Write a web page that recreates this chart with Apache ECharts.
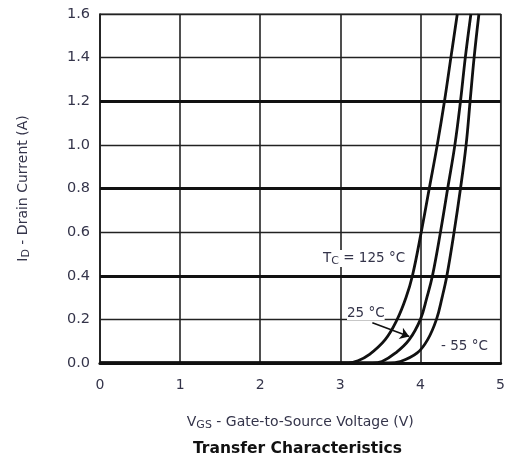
<!DOCTYPE html>
<html>
<head>
<meta charset="utf-8">
<script src="https://cdn.jsdelivr.net/npm/echarts@6/dist/echarts.min.js"></script>
<style>
  html, body { margin: 0; padding: 0; background: #fff; }
  #chart { width: 508px; height: 462px; }
</style>
</head>
<body>
<div id="chart"></div>
<script>
// Transfer characteristics: drain current vs gate-source voltage at three case temperatures
const vgs125 = [0, 3.10, 3.22, 3.36, 3.56, 3.71, 3.82, 3.90, 4.01, 4.11, 4.21, 4.30, 4.38, 4.46];
const id125  = [0, 0.00, 0.010, 0.038, 0.107, 0.20, 0.30, 0.40, 0.60, 0.80, 1.00, 1.20, 1.40, 1.60];

const vgs25 = [0, 3.40, 3.52, 3.69, 3.86, 4.00, 4.08, 4.15, 4.25, 4.34, 4.43, 4.50, 4.56, 4.63];
const id25  = [0, 0.00, 0.007, 0.046, 0.107, 0.20, 0.30, 0.40, 0.60, 0.80, 1.00, 1.20, 1.40, 1.60];

const vgsM55 = [0, 3.60, 3.75, 3.96, 4.09, 4.20, 4.27, 4.33, 4.42, 4.50, 4.57, 4.62, 4.67, 4.73];
const idM55  = [0, 0.00, 0.007, 0.046, 0.107, 0.20, 0.30, 0.40, 0.60, 0.80, 1.00, 1.20, 1.40, 1.60];

const xTicks = { min: 0, max: 5, step: 1 };
const yTicks = { min: 0, max: 1.6, step: 0.2 };
const majorY = [0.4, 0.8, 1.2];

const FONT = '"DejaVu Sans", "Liberation Sans", Arial, sans-serif';
const TEXT = '#34344a';

function pairs(xs, ys) { return xs.map((x, i) => [x, ys[i]]); }

const curveStyle = { color: '#111', width: 2.8 };
function curve(name, xs, ys) {
  return {
    name: name, type: 'line', data: pairs(xs, ys),
    smooth: 0.4, showSymbol: false, silent: true,
    lineStyle: curveStyle, z: 5
  };
}

const chart = echarts.init(document.getElementById('chart'), null, { renderer: 'canvas' });
chart.setOption({
  animation: false,
  backgroundColor: '#fff',
  textStyle: { fontFamily: FONT },
  title: {
    text: 'Transfer Characteristics',
    left: 188, top: 436,
    textStyle: { fontFamily: FONT, fontSize: 15.5, fontWeight: 'bold', color: '#111' }
  },
  grid: {
    left: 100, right: 5, top: 14, bottom: 99,
    show: true, borderColor: '#333', borderWidth: 1.2, backgroundColor: 'transparent'
  },
  xAxis: {
    type: 'value', min: xTicks.min, max: xTicks.max, interval: xTicks.step,
    name: '{m|V}{s|GS}{m| - Gate-to-Source Voltage (V)}',
    nameLocation: 'middle', nameGap: 50,
    nameTextStyle: {
      rich: {
        m: { fontFamily: FONT, fontSize: 14, color: TEXT },
        s: { fontFamily: FONT, fontSize: 11, color: TEXT, padding: [7, 0, 0, 0] }
      }
    },
    axisLine: { show: true, onZero: false, lineStyle: { color: '#111', width: 3.2 } },
    axisTick: { show: false },
    axisLabel: { margin: 15, fontFamily: FONT, fontSize: 14, color: TEXT },
    splitLine: { show: true, lineStyle: { color: '#222', width: 1.6 } }
  },
  yAxis: {
    type: 'value', min: yTicks.min, max: yTicks.max, interval: yTicks.step,
    name: '{m|I}{s|D}{m| - Drain Current (A)}',
    nameLocation: 'middle', nameGap: 68,
    nameTextStyle: {
      rich: {
        m: { fontFamily: FONT, fontSize: 14, color: TEXT },
        s: { fontFamily: FONT, fontSize: 11, color: TEXT, padding: [7, 0, 0, 0] }
      }
    },
    axisLine: { show: true, lineStyle: { color: '#222', width: 1.6 } },
    axisTick: { show: false },
    axisLabel: {
      margin: 10, fontFamily: FONT, fontSize: 14.5, color: TEXT,
      formatter: v => v.toFixed(1)
    },
    splitLine: { show: true, lineStyle: { color: '#222', width: 1.4 } }
  },
  series: [
    {
      name: 'major', type: 'line', data: [], silent: true,
      markLine: {
        silent: true, symbol: 'none', animation: false,
        label: { show: false },
        lineStyle: { color: '#111', width: 3, type: 'solid' },
        data: majorY.map(v => ({ yAxis: v }))
      }
    },
    curve('125', vgs125, id125),
    curve('25', vgs25, id25),
    Object.assign(curve('-55', vgsM55, idM55), {
      markLine: {
        silent: true, animation: false,
        symbol: ['none', 'arrow'], symbolSize: 9,
        label: { show: false },
        lineStyle: { color: '#111', width: 1.6, type: 'solid' },
        data: [[{ coord: [3.40, 0.185] }, { coord: [3.86, 0.121] }]]
      }
    })
  ],
  graphic: [
    {
      type: 'text', left: 323, top: 250, z: 10,
      style: {
        text: '{m|T}{s|C}{m| = 125 °C}', backgroundColor: '#fff',
        rich: {
          m: { fontFamily: FONT, fontSize: 13.5, fill: TEXT },
          s: { fontFamily: FONT, fontSize: 11, fill: TEXT, padding: [6, 0, 0, 0] }
        }
      }
    },
    {
      type: 'text', left: 347, top: 306, z: 10,
      style: { text: '25 °C', font: '13.5px ' + FONT, fill: TEXT, backgroundColor: '#fff' }
    },
    {
      type: 'text', left: 441, top: 339, z: 10,
      style: { text: '- 55 °C', font: '13.5px ' + FONT, fill: TEXT, backgroundColor: '#fff' }
    }
  ]
});
</script>
</body>
</html>
